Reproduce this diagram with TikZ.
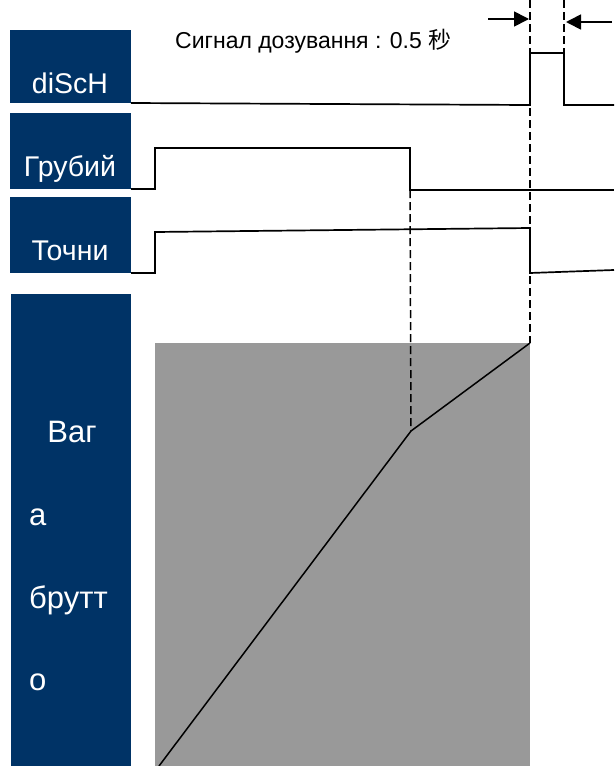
\documentclass[tikz,border=0pt]{standalone}
\usepackage{fontspec}
\setmainfont{Liberation Sans}
\newfontfamily\cjkfont{Noto Sans CJK SC}
\usepackage{xcolor}
\usepackage{tikz}
\usetikzlibrary{arrows.meta}
\definecolor{navyblue}{RGB}{0, 51, 102}
\definecolor{fillgray}{RGB}{153, 153, 153}

\tikzset{
	namebox/.style={fill=navyblue, draw=none},
	boxtext/.style={text=white, inner sep=0pt, anchor=base, font=\fontsize{28.5}{32}\selectfont},
	signal/.style={line width=1.7pt},
	guide/.style={line width=1.5pt, dash pattern=on 8pt off 4pt},
}

\begin{document}
\begin{tikzpicture}[x=1pt, y=-1pt, line join=miter, >={Triangle[length=15pt,width=15pt]}]
	\useasboundingbox (0,0) rectangle (614,766);

	% time marks
	\coordinate (tOn) at (155,0);
	\coordinate (tCoarse) at (410,0);
	\coordinate (tFine) at (530,0);
	\coordinate (tEnd) at (564,0);

	% label boxes on the left
	\fill[namebox] (10,30) rectangle (131,103);
	\fill[namebox] (10,113) rectangle (131,189);
	\fill[namebox] (10,197) rectangle (131,273);
	\fill[namebox] (11,294) rectangle (131,766);
	\node[boxtext] (disch) at (70,93) {diScH};
	\node[boxtext] (coarse) at (70,176) {Грубий};
	\node[boxtext] (fine) at (70,260) {Точни};
	\node[boxtext, font=\fontsize{31}{34}\selectfont] (weight1) at (72,442) {Ваг};
	\node[boxtext, anchor=base west, font=\fontsize{31}{34}\selectfont] (weight2) at (29,525) {а};
	\node[boxtext, anchor=base west, font=\fontsize{31}{34}\selectfont] (weight3) at (29,608) {брутт};
	\node[boxtext, anchor=base west, font=\fontsize{31}{34}\selectfont] (weight4) at (29,690) {о};

	% weight area and gross weight curve
	\fill[fillgray] (tOn |- 0,343) rectangle (tFine |- 0,766);
	\coordinate (kink) at (411,431);
	\coordinate (top) at (530,343);
	\draw[signal, line width=1.5pt] (159,766) -- (kink) -- (top);

	% discharge pulse
	\draw[signal] (131,103) -- (530,105) -- (530,53) -- (564,53) -- (564,105) -- (614,105);
	% coarse and fine feed
	\draw[signal] (131,189) -- (155,189) -- (155,148) -- (410,148) -- (410,190) -- (614,190);
	\draw[signal] (131,273) -- (155,273) -- (155,232) -- (530,228) -- (530,273) -- (614,270);

	% dashed guides
	\draw[guide] (tFine) -- (top);
	\draw[guide] (tEnd) -- (564,53);
	\draw[guide] (410,190) -- (kink);

	% pulse width
	\draw[->, line width=1.7pt] (488,19) -- (529,19);
	\draw[->, line width=1.7pt] (612,22) -- (566,22);
	\node[inner sep=0pt, anchor=base west, font=\fontsize{23}{27}\selectfont] (title) at (175,48) {Сигнал дозування : 0.5 {\cjkfont 秒}};
\end{tikzpicture}
\end{document}
